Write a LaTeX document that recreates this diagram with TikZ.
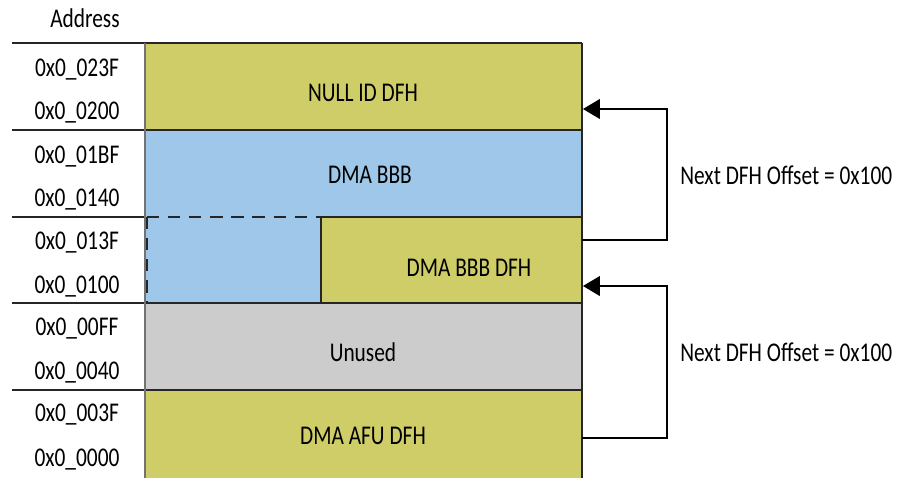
\documentclass[tikz,border=0pt]{standalone}
\usepackage{fontspec}
\setmainfont[FakeStretch=0.79]{Carlito}
\usetikzlibrary{arrows.meta,positioning}
\tikzset{>={Triangle[length=3.4mm,width=4mm]}}
\definecolor{dfhgreen}{RGB}{207,205,104}
\definecolor{bbbblue}{RGB}{158,199,233}
\definecolor{unusedgray}{RGB}{204,204,204}
\tikzset{
  lbl/.style={font=\fontsize{15.4}{17}\selectfont, inner sep=0pt},
  rowline/.style={draw=black!85, line width=0.6pt},
  link/.style={draw=black, line width=0.6pt},
}

\begin{document}
\begin{tikzpicture}[x=0.02cm,y=-0.02cm]
        \useasboundingbox (0,0) rectangle (904,478);
        % memory regions
        \fill[dfhgreen] (145,43) rectangle (582,130);
        \fill[bbbblue] (145,130) rectangle (582,217);
        \fill[bbbblue] (145,217) rectangle (321,303);
        \fill[dfhgreen] (321,217) rectangle (582,303);
        \fill[unusedgray] (145,303) rectangle (582,390);
        \fill[dfhgreen] (145,390) rectangle (582,478);
        % borders
        \draw[rowline] (12,43)--(582,43);
        \draw[rowline] (12,130)--(582,130);
        \draw[rowline] (12,217)--(145,217);
        \draw[rowline] (321,217)--(582,217);
        \draw[rowline] (12,303)--(582,303);
        \draw[rowline] (12,390)--(582,390);
        \draw[rowline] (582,43)--(582,478);
        \draw[rowline] (321,217)--(321,303);
        \draw[draw=black!55, line width=0.6pt] (145,43)--(145,478);
        \draw[rowline, dashed, dash pattern=on 7pt off 5pt] (147,217)--(321,217);
        \draw[rowline, dashed, dash pattern=on 7pt off 5pt] (147,217)--(147,303);
        % addresses
        \node[lbl] (addr) at (85,18) {Address};
        \node[lbl] (a23F) at (77,70) {0x0\_023F};
        \node[lbl] (a200) at (77,113) {0x0\_0200};
        \node[lbl] (a1BF) at (77,157) {0x0\_01BF};
        \node[lbl] (a140) at (77,200) {0x0\_0140};
        \node[lbl] (a13F) at (77,243) {0x0\_013F};
        \node[lbl] (a100) at (77,287) {0x0\_0100};
        \node[lbl] (a0FF) at (77,329) {0x0\_00FF};
        \node[lbl] (a040) at (77,373) {0x0\_0040};
        \node[lbl] (a03F) at (77,415) {0x0\_003F};
        \node[lbl] (a000) at (77,460) {0x0\_0000};
        % region names
        \node[lbl] (nullid) at (363,93) {NULL ID DFH};
        \node[lbl] (bbb) at (370,175) {DMA BBB};
        \node[lbl] (bbbdfh) at (469,268) {DMA BBB DFH};
        \node[lbl] (unused) at (363,352) {Unused};
        \node[lbl] (afudfh) at (363,436) {DMA AFU DFH};
        % offset links
        \coordinate (bbbOut) at (582,240);
        \coordinate (nullIn) at (583,109);
        \coordinate (afuOut) at (582,438);
        \coordinate (bbbIn) at (583,286);
        \draw[link,->] (bbbOut)--(667,240)--(667,109)--(nullIn);
        \draw[link,->] (afuOut)--(667,438)--(667,286)--(bbbIn);
        \node[lbl, anchor=west] (off1) at (680,175) {Next DFH Offset = 0x100};
        \node[lbl, anchor=west] (off2) at (680,352) {Next DFH Offset = 0x100};
\end{tikzpicture}
\end{document}
